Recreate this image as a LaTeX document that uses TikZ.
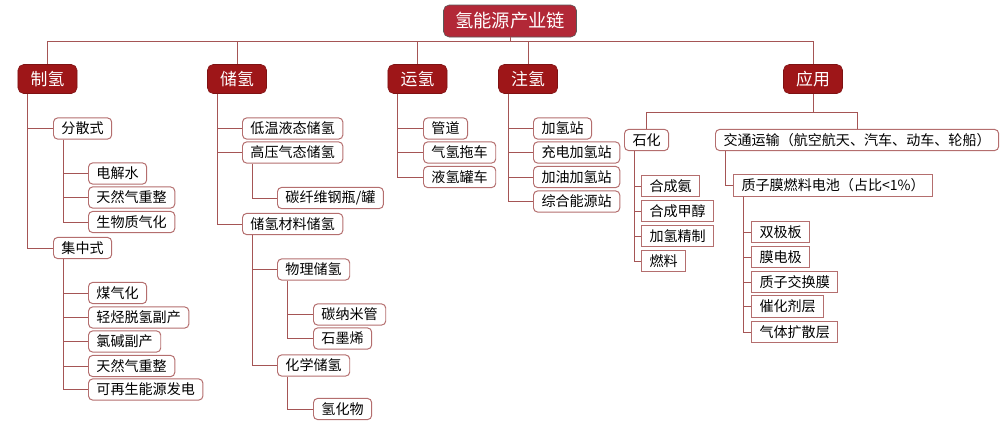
\documentclass[tikz,border=0pt]{standalone}
\usepackage{fontspec}
\setmainfont{Noto Sans CJK SC}
\usepackage{xcolor}
\definecolor{hdred}{RGB}{158,22,24}
\definecolor{titred}{RGB}{178,40,55}
\definecolor{linkc}{RGB}{165,85,85}
\definecolor{boxc}{RGB}{180,110,110}
\usepackage{tikz}
\usetikzlibrary{positioning,calc}

\begin{document}
\begin{tikzpicture}[
    x=0.025cm, y=-0.025cm,
    font=\fontsize{10}{12}\selectfont,
    titlebox/.style={rectangle, rounded corners=4pt, minimum width=3.325cm, minimum height=0.8cm, draw=gray!70!black, fill=titred, text=white, font=\fontsize{13}{15}\selectfont},
    hdbox/.style={rectangle, rounded corners=4pt, minimum width=1.475cm, minimum height=0.725cm, draw=hdred!80!black, fill=hdred, text=white, font=\fontsize{12}{14}\selectfont},
    leaf/.style={rectangle, rounded corners=3pt, anchor=west, minimum height=0.53cm, inner xsep=0.2cm, inner ysep=0pt, draw=boxc, fill=white, line width=0.7pt},
    sqleaf/.style={leaf, rounded corners=0pt},
    link/.style={draw=linkc, line width=0.7pt},
]
\useasboundingbox (0,0) rectangle (1006,424);

% Top
\node[titlebox] (chain) at (510,21) {氢能源产业链};
\coordinate (bus) at (510,41);

% Stages
\node[hdbox] (zq) at (47.5,79) {制氢};
\node[hdbox] (cq) at (237,79) {储氢};
\node[hdbox] (yq) at (417.5,79) {运氢};
\node[hdbox] (zhq) at (528,79) {注氢};
\node[hdbox] (yy) at (813,79) {应用};

\draw[link] (chain.south) -- (bus);
\draw[link] (zq.north |- bus) -- (yy.north |- bus);
\draw[link] (zq.north) -- (zq.north |- bus);
\draw[link] (cq.north) -- (cq.north |- bus);
\draw[link] (yq.north) -- (yq.north |- bus);
\draw[link] (zhq.north) -- (zhq.north |- bus);
\draw[link] (yy.north) -- (yy.north |- bus);

% Production
\node[leaf] (fensan) at (53,128.5) {分散式};
\node[leaf] (djs) at (88,173.5) {电解水};
\node[leaf] (trq1) at (88,197.5) {天然气重整};
\node[leaf] (swz) at (88,222) {生物质气化};
\node[leaf] (jizhong) at (53,248) {集中式};
\node[leaf] (mqh) at (88,293) {煤气化};
\node[leaf] (qt) at (88,317.5) {轻烃脱氢副产};
\node[leaf] (lj) at (88,341.5) {氯碱副产};
\node[leaf] (trq2) at (88,366) {天然气重整};
\node[leaf] (kzs) at (88,389.5) {可再生能源发电};

\draw[link] ($(zq.south west)+(10,0)$) |- (fensan.west);
\draw[link] ($(zq.south west)+(10,0)$) |- (jizhong.west);
\draw[link] ($(fensan.south west)+(10,0)$) |- (djs.west);
\draw[link] ($(fensan.south west)+(10,0)$) |- (trq1.west);
\draw[link] ($(fensan.south west)+(10,0)$) |- (swz.west);
\draw[link] ($(jizhong.south west)+(10,0)$) |- (mqh.west);
\draw[link] ($(jizhong.south west)+(10,0)$) |- (qt.west);
\draw[link] ($(jizhong.south west)+(10,0)$) |- (lj.west);
\draw[link] ($(jizhong.south west)+(10,0)$) |- (trq2.west);
\draw[link] ($(jizhong.south west)+(10,0)$) |- (kzs.west);

% Storage
\node[leaf] (dwy) at (242,128.5) {低温液态储氢};
\node[leaf] (gyq) at (242,152.5) {高压气态储氢};
\node[leaf] (txw) at (277,198) {碳纤维钢瓶/罐};
\node[leaf] (clcq) at (242,224) {储氢材料储氢};
\node[leaf] (wl) at (277,269.5) {物理储氢};
\node[leaf] (tnm) at (313,314.5) {碳纳米管};
\node[leaf] (smx) at (313,338.5) {石墨烯};
\node[leaf] (hx) at (277,365.5) {化学储氢};
\node[leaf] (qhw) at (313,409) {氢化物};

\draw[link] ($(cq.south west)+(10,0)$) |- (dwy.west);
\draw[link] ($(cq.south west)+(10,0)$) |- (gyq.west);
\draw[link] ($(cq.south west)+(10,0)$) |- (clcq.west);
\draw[link] ($(gyq.south west)+(10,0)$) |- (txw.west);
\draw[link] ($(clcq.south west)+(10,0)$) |- (wl.west);
\draw[link] ($(clcq.south west)+(10,0)$) |- (hx.west);
\draw[link] ($(wl.south west)+(10,0)$) |- (tnm.west);
\draw[link] ($(wl.south west)+(10,0)$) |- (smx.west);
\draw[link] ($(hx.south west)+(10,0)$) |- (qhw.west);

% Transport
\node[leaf] (gd) at (423,128.5) {管道};
\node[leaf] (qqt) at (423,152.5) {气氢拖车};
\node[leaf] (yqg) at (423,177) {液氢罐车};

\draw[link] ($(yq.south west)+(10,0)$) |- (gd.west);
\draw[link] ($(yq.south west)+(10,0)$) |- (qqt.west);
\draw[link] ($(yq.south west)+(10,0)$) |- (yqg.west);

% Refuelling
\node[leaf] (jqz) at (533,128.5) {加氢站};
\node[leaf] (cdj) at (533,152.5) {充电加氢站};
\node[leaf] (jyj) at (533,177) {加油加氢站};
\node[leaf] (zhn) at (533,201.5) {综合能源站};

\draw[link] ($(zhq.south west)+(10,0)$) |- (jqz.west);
\draw[link] ($(zhq.south west)+(10,0)$) |- (cdj.west);
\draw[link] ($(zhq.south west)+(10,0)$) |- (jyj.west);
\draw[link] ($(zhq.south west)+(10,0)$) |- (zhn.west);

% Applications
\coordinate (split) at (813,112);
\node[leaf] (sh) at (624,140) {石化};
\node[sqleaf] (hca) at (641,186) {合成氨};
\node[sqleaf] (hcj) at (641,211) {合成甲醇};
\node[sqleaf] (jqj) at (641,236) {加氢精制};
\node[sqleaf] (rl) at (641,261) {燃料};
\node[leaf] (jt) at (715,140) {交通运输（航空航天、汽车、动车、轮船）};
\node[sqleaf] (zzm) at (733,185.5) {质子膜燃料电池（占比<1\%）};
\node[sqleaf] (sjb) at (751,232) {双极板};
\node[sqleaf] (mdj) at (751,257) {膜电极};
\node[sqleaf] (zzj) at (751,282) {质子交换膜};
\node[sqleaf] (chj) at (751,306.5) {催化剂层};
\node[sqleaf] (qtk) at (751,332) {气体扩散层};

\draw[link] (yy.south) -- (split);
\draw[link] (sh.north |- split) -- (jt.north |- split);
\draw[link] (sh.north |- split) -- (sh.north);
\draw[link] (jt.north |- split) -- (jt.north);
\draw[link] ($(sh.south west)+(10,0)$) |- (hca.west);
\draw[link] ($(sh.south west)+(10,0)$) |- (hcj.west);
\draw[link] ($(sh.south west)+(10,0)$) |- (jqj.west);
\draw[link] ($(sh.south west)+(10,0)$) |- (rl.west);
\draw[link] ($(jt.south west)+(10,0)$) |- (zzm.west);
\draw[link] ($(zzm.south west)+(10,0)$) |- (sjb.west);
\draw[link] ($(zzm.south west)+(10,0)$) |- (mdj.west);
\draw[link] ($(zzm.south west)+(10,0)$) |- (zzj.west);
\draw[link] ($(zzm.south west)+(10,0)$) |- (chj.west);
\draw[link] ($(zzm.south west)+(10,0)$) |- (qtk.west);

\end{tikzpicture}
\end{document}
